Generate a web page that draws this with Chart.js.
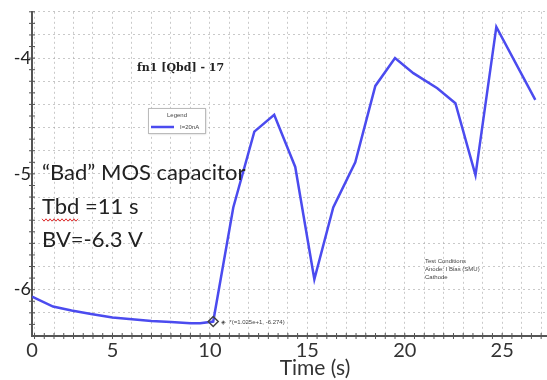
<!DOCTYPE html>
<html>
<head>
<meta charset="utf-8">
<script src="https://cdn.jsdelivr.net/npm/chart.js@4/dist/chart.umd.min.js"></script>
<style>
  html, body { margin: 0; padding: 0; background: #fff; }
  #wrap { width: 547px; height: 380px; position: relative; }
</style>
</head>
<body>
<div id="wrap"><canvas id="c"></canvas></div>
<script>
const times = [0.87, 1.95, 2.9, 3.9, 5.0, 6.0, 7.0, 8.0, 9.0, 9.5, 10.17, 11.2, 12.28, 13.3, 14.38, 15.36, 16.33, 17.46, 18.49, 19.5, 20.44, 21.67, 22.6, 23.63, 24.7, 26.7];
const volts = [-6.06, -6.146, -6.18, -6.21, -6.24, -6.255, -6.27, -6.28, -6.29, -6.29, -6.275, -5.29, -4.635, -4.49, -4.94, -5.91, -5.29, -4.90, -4.24, -4.0, -4.13, -4.26, -4.39, -5.01, -3.73, -4.36];
const markIndex = 10;

// 축 눈금
const xLabelAt = [0.87, 5, 10, 15, 20, 25];
const xLabels = ['0', '5', '10', '15', '20', '25'];
const yLabelAt = [-4, -5, -6];
const yLabels = ['-4', '-5', '-6'];

const BLUE = '#4b4bef';
const GRID = 'rgba(165,165,165,0.6)';

// 주석 텍스트
const notes = {
  title: 'fn1 [Qbd] - 17',
  legendTitle: 'Legend',
  legendItem: 'I=20nA',
  bad: '\u201CBad\u201D MOS capacitor',
  tbd: 'Tbd =11 s',
  bv: 'BV=-6.3 V',
  cond: ['Test Conditions', 'Anode: I Bias (SMU)', 'Cathode'],
  marker: '\u25C8  *(=1.025e+1, -6.274)',
  xTitle: 'Time (s)',
};

const overlay = {
  id: 'overlay',
  afterDraw(chart) {
    const { ctx, scales: { x, y } } = chart;
    ctx.save();
    // 축 보조 눈금
    ctx.strokeStyle = '#555';
    ctx.lineWidth = 1;
    const yb = y.getPixelForValue(-6.4);
    for (let t = 1; t <= 27.01; t += 0.5) {
      const px = x.getPixelForValue(t);
      ctx.beginPath(); ctx.moveTo(px, yb - 3); ctx.lineTo(px, yb + 3); ctx.stroke();
    }
    const xl = x.getPixelForValue(0.87);
    for (let v = -6.3; v <= -3.6; v += 0.1) {
      const py = y.getPixelForValue(v);
      ctx.beginPath(); ctx.moveTo(xl - 3, py); ctx.lineTo(xl + 3, py); ctx.stroke();
    }

    // 제목
    ctx.fillStyle = '#222';
    ctx.textBaseline = 'middle';
    ctx.font = 'bold 11px "DejaVu Serif", serif';
    ctx.fillText(notes.title, 137, 68);

    // 범례 상자
    ctx.fillStyle = '#fff';
    ctx.shadowColor = 'rgba(0,0,0,0.25)';
    ctx.shadowOffsetX = 1; ctx.shadowOffsetY = 1; ctx.shadowBlur = 2;
    ctx.fillRect(148, 108, 57, 25);
    ctx.shadowColor = 'transparent';
    ctx.strokeStyle = '#bbb';
    ctx.strokeRect(148.5, 108.5, 57, 25);
    ctx.fillStyle = '#444';
    ctx.font = '6px "Liberation Sans", sans-serif';
    ctx.textAlign = 'center';
    ctx.fillText(notes.legendTitle, 177, 115);
    ctx.textAlign = 'left';
    ctx.fillText(notes.legendItem, 180, 127);
    ctx.strokeStyle = BLUE; ctx.lineWidth = 2.5;
    ctx.beginPath(); ctx.moveTo(151, 127); ctx.lineTo(174, 127); ctx.stroke();

    // 큰 주석
    ctx.fillStyle = '#222';
    ctx.font = '22px Lato, sans-serif';
    ctx.textBaseline = 'alphabetic';
    ctx.fillText(notes.bad, 42, 180);
    ctx.fillText(notes.tbd, 42, 214);
    ctx.fillText(notes.bv, 42, 247);
    // 빨간 물결 밑줄
    const w = ctx.measureText('Tbd').width;
    ctx.strokeStyle = '#e03030'; ctx.lineWidth = 1;
    ctx.beginPath();
    for (let i = 0; i <= w; i += 2) {
      const yy = 220 + ((i / 2) % 2 ? 1.2 : -1.2);
      if (i === 0) ctx.moveTo(42 + i, yy); else ctx.lineTo(42 + i, yy);
    }
    ctx.stroke();

    // 시험 조건
    ctx.fillStyle = '#444';
    ctx.font = '6px "Liberation Sans", sans-serif';
    ctx.textBaseline = 'middle';
    notes.cond.forEach((s, i) => ctx.fillText(s, 425, 261 + i * 8));
    ctx.fillText(notes.marker, 221, 322);

    // x축 제목
    ctx.fillStyle = '#333';
    ctx.font = '21px Lato, sans-serif';
    ctx.textAlign = 'center';
    ctx.textBaseline = 'alphabetic';
    ctx.fillText(notes.xTitle, 315, 375);
    ctx.restore();
  },
};

new Chart(document.getElementById('c'), {
  type: 'scatter',
  data: {
    datasets: [{
      data: times.map((t, i) => ({ x: t, y: volts[i] })),
      showLine: true,
      borderColor: BLUE,
      backgroundColor: 'transparent',
      borderWidth: 2.5,
      tension: 0,
      pointStyle: 'rectRot',
      pointRadius: times.map((_, i) => (i === markIndex ? 5 : 0)),
      pointBorderColor: '#444',
      pointBorderWidth: 1.5,
    }],
  },
  options: {
    responsive: true, maintainAspectRatio: false,
    animation: false,
    layout: { padding: { top: 10, right: 0, left: 0, bottom: 0 } },
    plugins: { legend: { display: false }, tooltip: { enabled: false } },
    scales: {
      x: {
        type: 'linear', min: 0.87, max: 27.3,
        afterBuildTicks: (s) => {
          const t = [{ value: 0.87 }];
          for (let i = 1; i <= 27; i++) t.push({ value: i });
          s.ticks = t;
        },
        afterFit: (s) => { s.height = 44; },
        grid: { color: GRID, lineWidth: 1, drawTicks: false },
        border: { color: '#555', width: 2, dash: [2, 3] },
        ticks: {
          autoSkip: false, maxRotation: 0, padding: 3, color: '#333',
          font: { family: 'Lato', size: 20 },
          callback: (v) => {
            const i = xLabelAt.findIndex((a) => Math.abs(a - v) < 1e-6);
            return i >= 0 ? xLabels[i] : '';
          },
        },
      },
      y: {
        min: -6.4, max: -3.6,
        afterBuildTicks: (s) => {
          const t = [];
          for (let i = 0; i <= 14; i++) t.push({ value: -6.4 + i * 0.2 });
          s.ticks = t;
        },
        afterFit: (s) => { s.width = 32; },
        grid: { color: GRID, lineWidth: 1, drawTicks: false },
        border: { color: '#555', width: 2, dash: [2, 3] },
        ticks: {
          autoSkip: false, padding: 1, color: '#222',
          font: { family: 'Lato', size: 18 },
          callback: (v) => {
            const i = yLabelAt.findIndex((a) => Math.abs(a - v) < 1e-6);
            return i >= 0 ? yLabels[i] : '';
          },
        },
      },
    },
  },
  plugins: [overlay],
});
</script>
</body>
</html>
